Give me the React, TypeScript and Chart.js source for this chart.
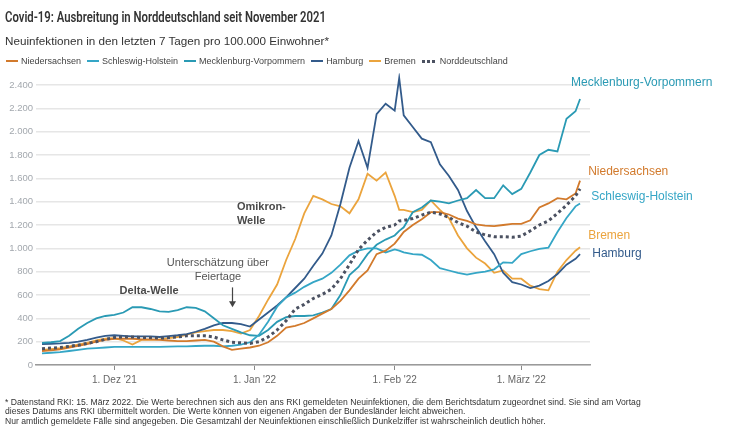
import React, { useEffect, useRef } from 'react';
import { Chart, registerables } from 'chart.js';

Chart.register(...registerables);

// Days since 15 Nov 2021
const days = [0, 2, 4, 6, 8, 10, 12, 14, 16, 18, 20, 22, 24, 26, 28, 30, 32, 34, 36, 38, 40, 42, 44, 46, 48, 50, 52, 54, 56, 58, 60, 62, 64, 66, 68, 70, 72, 74, 76, 78, 79, 80, 82, 84, 86, 88, 90, 92, 94, 96, 98, 100, 102, 104, 106, 108, 110, 112, 114, 116, 118, 119];

const niedersachsen = [120, 125, 135, 150, 165, 180, 200, 215, 225, 225, 225, 220, 220, 215, 210, 205, 205, 210, 215, 200, 160, 130, 140, 150, 165, 195, 250, 320, 335, 360, 400, 440, 480, 550, 640, 740, 810, 950, 980, 1040, 1090, 1140, 1200, 1250, 1310, 1310, 1290, 1255, 1235, 1205, 1195, 1190, 1200, 1210, 1210, 1240, 1350, 1385, 1430, 1420, 1470, 1580];

const schleswigHolstein = [100, 105, 110, 120, 130, 140, 145, 150, 155, 155, 155, 155, 155, 155, 158, 160, 160, 163, 165, 165, 160, 165, 175, 195, 260, 370, 500, 580, 620, 670, 710, 740, 790, 860, 940, 980, 1000, 1000, 965, 990, 980, 965, 950, 945, 900, 830, 810, 790, 775, 790, 800, 820, 880, 875, 950, 975, 995, 1005, 1140, 1260, 1360, 1385];

const mecklenburgVorpommern = [190, 195, 205, 250, 310, 360, 400, 420, 430, 450, 495, 495, 480, 460, 455, 470, 495, 490, 460, 400, 340, 310, 280, 255, 250, 300, 370, 410, 420, 420, 425, 450, 480, 600, 770, 840, 950, 1030, 1075, 1110, 1150, 1180, 1310, 1350, 1410, 1400, 1385, 1410, 1430, 1500, 1430, 1430, 1540, 1465, 1510, 1650, 1800, 1845, 1830, 2110, 2175, 2280];

const hamburg = [180, 182, 185, 190, 200, 215, 235, 250, 255, 250, 245, 245, 245, 240, 248, 255, 265, 285, 310, 340, 360, 360, 350, 330, 390, 450, 510, 580, 660, 740, 850, 955, 1110, 1380, 1690, 1920, 1690, 2150, 2240, 2180, 2460, 2140, 2040, 1940, 1910, 1720, 1620, 1500, 1320, 1180, 1060, 950, 790, 710, 690, 660, 680, 720, 780, 860, 910, 950];

const bremen = [130, 135, 145, 160, 175, 190, 210, 225, 230, 210, 175, 215, 215, 220, 230, 240, 260, 280, 290, 300, 300, 290, 270, 300, 420, 560, 690, 900, 1080, 1300, 1450, 1420, 1380, 1360, 1300, 1420, 1640, 1580, 1650, 1450, 1330, 1330, 1310, 1330, 1410, 1330, 1260, 1110, 1000, 920, 870, 790, 810, 740, 740, 680, 650, 640, 800, 900, 980, 1010];

const norddeutschland = [140, 145, 150, 160, 170, 185, 200, 220, 235, 240, 240, 235, 235, 230, 235, 240, 250, 250, 250, 240, 215, 195, 190, 185, 200, 240, 300, 380, 480, 520, 570, 605, 650, 740, 860, 990, 1070, 1140, 1180, 1200, 1235, 1240, 1255, 1285, 1310, 1295, 1265, 1220, 1190, 1140, 1115, 1100, 1100, 1095, 1105, 1150, 1200, 1235, 1300, 1370, 1450, 1510];

const seriesNames = ['Niedersachsen', 'Schleswig-Holstein', 'Mecklenburg-Vorpommern', 'Hamburg', 'Bremen', 'Norddeutschland'];

const xTickDays = [16, 47, 78, 106];
const xTickLabels = ["1. Dez '21", "1. Jan '22", "1. Feb '22", "1. März '22"];

const C_NDS = '#d27a2c';
const C_SH = '#35a6c6';
const C_MV = '#2a9ab4';
const C_HH = '#335b8b';
const C_HB = '#eba43d';
const C_ND = '#4b5161';

const seriesColors = [C_NDS, C_SH, C_MV, C_HH, C_HB, C_ND];

const endLabels = [
  { text: 'Mecklenburg-Vorpommern', color: C_MV, day: 117.0, value: 2420 },
  { text: 'Niedersachsen', color: C_NDS, day: 120.8, value: 1655 },
  { text: 'Schleswig-Holstein', color: C_SH, day: 121.5, value: 1440 },
  { text: 'Bremen', color: C_HB, day: 120.8, value: 1105 },
  { text: 'Hamburg', color: C_HH, day: 121.7, value: 950 },
];

const notes = [
  { lines: ['Delta-Welle'], day: 23.7, value: 634, bold: true, align: 'center' },
  { lines: ['Omikron-', 'Welle'], day: 43.1, value: 1354, bold: true, align: 'left' },
  { lines: ['Unterschätzung über', 'Feiertage'], day: 38.9, value: 874, bold: false, align: 'center' },
];

const arrow = { day: 42, from: 665, to: 495 };

const TITLE_WIDTH = 321;

const fmt = (v: number) => String(v).replace(/\B(?=(\d{3})+(?!\d))/g, '.');

const overlayPlugin = {
  id: 'overlay',
  afterDatasetsDraw(chart: any) {
    const { ctx, scales } = chart;
    const xs = scales.x;
    const ys = scales.y;
    ctx.save();
    ctx.textBaseline = 'middle';
    ctx.font = '12px "Liberation Sans", Arial, sans-serif';
    ctx.textAlign = 'left';
    endLabels.forEach((l) => {
      ctx.fillStyle = l.color;
      ctx.fillText(l.text, xs.getPixelForValue(l.day), ys.getPixelForValue(l.value));
    });
    notes.forEach((n) => {
      ctx.font = (n.bold ? 'bold ' : '') + '11px "Liberation Sans", Arial, sans-serif';
      ctx.fillStyle = n.bold ? '#4a4a4a' : '#555555';
      ctx.textAlign = n.align as CanvasTextAlign;
      const x = xs.getPixelForValue(n.day);
      const y0 = ys.getPixelForValue(n.value);
      n.lines.forEach((t, i) => ctx.fillText(t, x, y0 + i * 14));
    });
    const ax = Math.round(xs.getPixelForValue(arrow.day)) + 0.5;
    const ay1 = ys.getPixelForValue(arrow.from);
    const ay2 = ys.getPixelForValue(arrow.to);
    ctx.strokeStyle = '#444';
    ctx.fillStyle = '#444';
    ctx.lineWidth = 1.2;
    ctx.beginPath();
    ctx.moveTo(ax, ay1);
    ctx.lineTo(ax, ay2 - 5);
    ctx.stroke();
    ctx.beginPath();
    ctx.moveTo(ax - 3.5, ay2 - 6);
    ctx.lineTo(ax + 3.5, ay2 - 6);
    ctx.lineTo(ax, ay2);
    ctx.closePath();
    ctx.fill();
    ctx.restore();
  },
};

export default function App() {
  const ref = useRef<HTMLCanvasElement | null>(null);
  const titleRef = useRef<HTMLDivElement | null>(null);

  useEffect(() => {
    const t = titleRef.current;
    if (t) {
      t.style.transform = 'none';
      const w = t.getBoundingClientRect().width;
      if (w > 0) t.style.transform = `scaleX(${TITLE_WIDTH / w})`;
    }
    if (!ref.current) return;
    const allSeries = [niedersachsen, schleswigHolstein, mecklenburgVorpommern, hamburg, bremen, norddeutschland];
    const datasets = allSeries.map((vals, i) => {
      const dotted = i === 5;
      return {
        label: seriesNames[i],
        data: days.map((d, j) => ({ x: d, y: vals[j] })),
        borderColor: seriesColors[i],
        backgroundColor: seriesColors[i],
        borderWidth: dotted ? 3 : 1.8,
        borderDash: dotted ? [3, 3] : [],
        pointRadius: 0,
        tension: 0,
        fill: false,
        order: dotted ? 0 : 1,
      };
    });
    const chart = new Chart(ref.current, {
      type: 'line',
      data: { datasets },
      options: {
        animation: false,
        responsive: false,
        devicePixelRatio: 1,
        layout: { padding: { top: 73.33, left: 0, right: 141, bottom: 38 } },
        plugins: { legend: { display: false }, tooltip: { enabled: false }, title: { display: false } },
        scales: {
          x: {
            type: 'linear',
            min: -1.33,
            max: 121.2,
            afterFit: (s: any) => { s.height = 30; },
            afterBuildTicks: (s: any) => { s.ticks = xTickDays.map((v) => ({ value: v })); },
            ticks: {
              autoSkip: false,
              maxRotation: 0,
              padding: 4,
              color: '#666',
              font: { size: 10, family: '"Liberation Sans", Arial, sans-serif' },
              callback: (v: any) => {
                const i = xTickDays.indexOf(Number(v));
                return i >= 0 ? xTickLabels[i] : '';
              },
            },
            grid: { display: true, drawOnChartArea: false, drawTicks: true, tickLength: 5, tickColor: '#888', lineWidth: 1 },
            border: { display: true, color: '#9a9a9a', width: 1.5 },
          },
          y: {
            min: 0,
            max: 2500,
            afterFit: (s: any) => { s.width = 36; },
            ticks: {
              stepSize: 200,
              includeBounds: false,
              padding: 3,
              color: '#a3a8ae',
              font: { size: 9.5, family: '"Liberation Sans", Arial, sans-serif' },
              callback: (v: any) => fmt(Number(v)),
            },
            grid: { color: '#e6e6e6', lineWidth: 1.5, drawTicks: false },
            border: { display: false },
          },
        },
      },
      plugins: [overlayPlugin],
    } as any);
    return () => chart.destroy();
  }, []);

  const legendItem = (name: string, color: string, dotted: boolean) => (
    <span key={name} style={{ display: 'inline-flex', alignItems: 'center', marginRight: 6 }}>
      {dotted ? (
        <span style={{ display: 'inline-block', width: 13, height: 0, borderTop: `3px dotted ${color}`, marginRight: 5 }} />
      ) : (
        <span style={{ display: 'inline-block', width: 12, height: 2, background: color, marginRight: 3 }} />
      )}
      <span>{name}</span>
    </span>
  );

  return (
    <div style={{ position: 'absolute', left: 0, top: 0, width: 731, height: 433, background: '#fff', overflow: 'hidden' }}>
      <canvas ref={ref} width={731} height={433} style={{ position: 'absolute', left: 0, top: 0, width: 731, height: 433 }} />
      <div ref={titleRef} style={{ position: 'absolute', left: 5, top: 9, font: '600 14.5px Roboto, "Liberation Sans", sans-serif', color: '#333', whiteSpace: 'nowrap', transformOrigin: '0 0' }}>
        Covid-19: Ausbreitung in Norddeutschland seit November 2021
      </div>
      <div style={{ position: 'absolute', left: 5, top: 33.5, font: '11.7px "Liberation Sans", Arial, sans-serif', color: '#333', whiteSpace: 'nowrap' }}>
        Neuinfektionen in den letzten 7 Tagen pro 100.000 Einwohner*
      </div>
      <div style={{ position: 'absolute', left: 6, top: 56, font: '9px "Liberation Sans", Arial, sans-serif', color: '#444', whiteSpace: 'nowrap', display: 'flex', alignItems: 'center' }}>
        {seriesNames.map((n, i) => legendItem(n, seriesColors[i], i === 5))}
      </div>
      <div style={{ position: 'absolute', left: 5, top: 398, font: '8.6px "Liberation Sans", Arial, sans-serif', color: '#333', whiteSpace: 'nowrap', lineHeight: '9.3px' }}>
        <div>* Datenstand RKI: 15. März 2022. Die Werte berechnen sich aus den ans RKI gemeldeten Neuinfektionen, die dem Berichtsdatum zugeordnet sind. Sie sind am Vortag</div>
        <div>dieses Datums ans RKI übermittelt worden. Die Werte können von eigenen Angaben der Bundesländer leicht abweichen.</div>
        <div>Nur amtlich gemeldete Fälle sind angegeben. Die Gesamtzahl der Neuinfektionen einschließlich Dunkelziffer ist wahrscheinlich deutlich höher.</div>
      </div>
    </div>
  );
}
